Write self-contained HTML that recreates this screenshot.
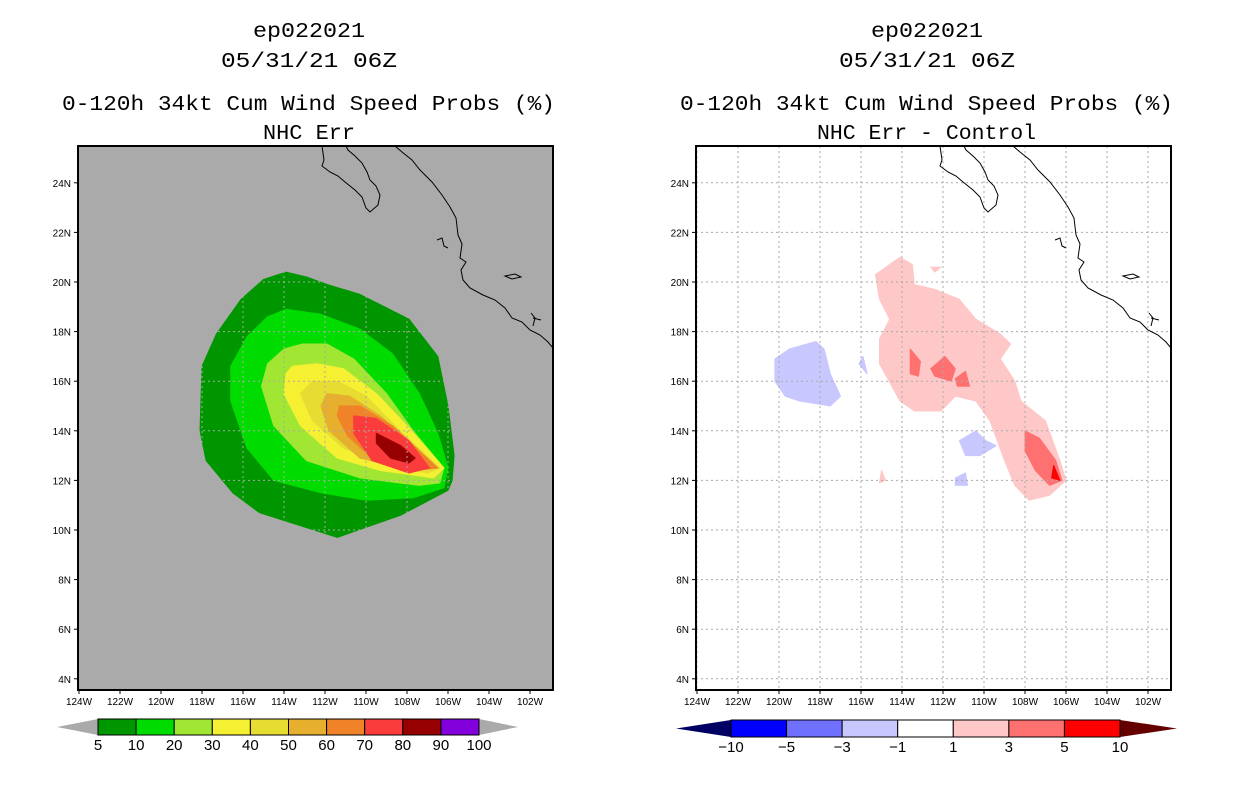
<!DOCTYPE html>
<html><head><meta charset="utf-8"><style>
body{margin:0;background:#fff;width:1236px;height:800px;overflow:hidden}
svg{display:block}
text{font-family:"Liberation Sans",sans-serif;fill:#000}
.tt{font-size:21px;font-family:"Liberation Mono",monospace}
</style></head><body>
<svg id="chart" width="1236" height="800">
<g>
<text class="tt" x="253" y="37" textLength="112" lengthAdjust="spacingAndGlyphs">ep022021</text>
<text class="tt" x="221" y="67" textLength="176" lengthAdjust="spacingAndGlyphs">05/31/21 06Z</text>
<text class="tt" x="62" y="110" textLength="493" lengthAdjust="spacingAndGlyphs">0-120h 34kt Cum Wind Speed Probs (%)</text>
<text class="tt" x="263" y="139" textLength="92" lengthAdjust="spacingAndGlyphs">NHC Err</text>
</g>
<g>
<text class="tt" x="871" y="37" textLength="112" lengthAdjust="spacingAndGlyphs">ep022021</text>
<text class="tt" x="839" y="67" textLength="176" lengthAdjust="spacingAndGlyphs">05/31/21 06Z</text>
<text class="tt" x="680" y="110" textLength="493" lengthAdjust="spacingAndGlyphs">0-120h 34kt Cum Wind Speed Probs (%)</text>
<text class="tt" x="817" y="139" textLength="219" lengthAdjust="spacingAndGlyphs">NHC Err - Control</text>
</g>
<g id="left"></g>
<g id="right"></g>
<g id="cbars"></g>
</svg>
<script>
const lonTicks=[124,122,120,118,116,114,112,110,108,106,104,102];
const latTicks=[24,22,20,18,16,14,12,10,8,6,4];
const probLevels=['5','10','20','30','40','50','60','70','80','90','100'];
const probColors=['#009600','#00dc00','#a0e632','#f5f032','#e6dc32','#e6af2d','#f08228','#fa3c3c','#960000','#8200dc'];
const diffLevels=['-10','-5','-3','-1','1','3','5','10'];
const diffColors=['#0000ff','#7070ff','#c8c8ff','#ffffff','#ffc8c8','#ff7070','#ff0000'];
const p5=[[115.0,20.1],[113.9,20.4],[112.9,20.2],[111.9,19.9],[110.3,19.5],[107.9,18.5],[106.5,17.0],[106.0,15.0],[105.7,13.0],[105.8,12.0],[106.0,11.6],[108.3,10.6],[111.4,9.7],[115.2,10.7],[116.5,11.5],[117.8,12.8],[118.1,14.0],[118.0,16.6],[117.3,17.9],[116.1,19.3]];
const p10=[[113.9,18.9],[112.2,18.7],[110.3,18.1],[108.7,17.1],[107.4,15.5],[106.5,13.9],[106.0,12.5],[106.2,11.7],[107.7,11.3],[110.0,11.2],[112.2,11.5],[114.5,12.0],[115.8,13.3],[116.6,15.2],[116.6,16.6],[115.8,17.8],[114.8,18.6]];
const p20=[[113.1,17.5],[111.9,17.5],[110.6,16.9],[109.0,15.5],[107.7,14.0],[106.2,12.5],[106.4,11.9],[107.4,11.8],[110.3,12.1],[112.9,12.8],[114.5,14.2],[115.1,15.8],[114.8,16.7],[114.0,17.3]];
const p30=[[113.6,16.6],[112.4,16.7],[111.1,16.5],[109.5,15.5],[108.0,14.2],[106.2,12.5],[106.7,12.1],[109.3,12.4],[111.4,12.9],[113.2,14.2],[114.0,15.5],[113.9,16.3]];
const p40=[[112.6,16.0],[111.4,16.0],[110.0,15.4],[108.7,14.3],[106.4,12.5],[107.0,12.3],[109.0,12.6],[111.1,13.3],[112.6,14.4],[113.2,15.5]];
const p50=[[111.9,15.5],[110.8,15.4],[109.3,14.6],[106.5,12.5],[107.7,12.4],[110.3,12.9],[111.8,14.0],[112.2,15.0]];
const p60=[[111.3,15.0],[110.3,15.0],[108.7,14.2],[106.5,12.5],[107.7,12.4],[109.7,12.9],[110.9,13.8],[111.4,14.6]];
const p70=[[110.6,14.6],[109.5,14.5],[107.9,13.6],[106.9,12.5],[107.9,12.3],[109.7,12.8],[110.6,13.9]];
const p80=[[109.5,13.9],[108.3,13.4],[107.6,12.9],[107.9,12.7],[108.8,12.9],[109.5,13.5]];
const dPos1=[[[115.3,20.3],[114.1,21.0],[113.5,20.7],[113.4,19.9],[112.4,19.7],[111.2,19.3],[110.4,18.5],[109.2,17.9],[108.7,17.5],[109.2,16.9],[108.5,16.0],[108.2,15.2],[107.0,14.4],[106.3,12.8],[106.0,12.0],[106.8,11.4],[107.8,11.2],[108.5,11.8],[109.0,12.8],[109.7,14.4],[110.4,15.2],[111.4,15.4],[112.1,14.8],[113.4,14.8],[114.1,15.2],[115.1,16.7],[115.1,17.7],[114.6,18.5],[115.1,19.3]],
 [[115.0,12.4],[114.8,12.0],[115.1,11.9]],[[112.6,20.6],[112.1,20.6],[112.4,20.4]]];
const dPos3=[[[113.6,17.3],[113.1,16.8],[113.2,16.2],[113.6,16.3]],[[112.6,16.5],[111.9,17.0],[111.4,16.5],[111.6,16.0],[112.4,16.2]],[[111.4,16.1],[110.9,16.4],[110.7,15.8],[111.3,15.8]],[[108.0,14.0],[107.3,13.7],[106.5,12.8],[106.2,12.0],[106.8,11.8],[107.5,12.4],[108.0,13.2]]];
const dPos5=[[[106.6,12.6],[106.3,12.0],[106.7,12.1]]];
const dNeg1=[[[120.2,16.9],[119.5,17.3],[118.2,17.6],[117.8,17.3],[117.5,16.3],[117.0,15.4],[117.5,15.0],[119.0,15.2],[119.7,15.4],[120.2,16.0]],[[111.2,13.6],[110.4,14.0],[109.9,13.6],[109.4,13.4],[110.2,13.0],[110.9,13.0]],[[111.4,12.1],[110.9,12.3],[110.8,11.8],[111.4,11.8]],[[116.1,16.7],[115.9,17.0],[115.7,16.3]]];
const NS='http://www.w3.org/2000/svg';
function el(tag,attrs,parent){const e=document.createElementNS(NS,tag);for(const k in attrs)e.setAttribute(k,attrs[k]);parent.appendChild(e);return e;}
const X0=[78,696],W=475,Y0=146,H=544;
function xs(p,lon){return X0[p]+1+(124-lon)*20.5;}
function ys(lat){return 282-(lat-20)*24.8;}
function poly(p,pts,fill,g){const d=pts.map(q=>xs(p,q[0]).toFixed(1)+','+ys(q[1]).toFixed(1)).join(' ');return el('polygon',{points:d,fill:fill,'stroke':fill,'stroke-linejoin':'round','stroke-width':1},g);}
const coastBaja="M322,146 L324,160 L322,166 L330,172 L338,176 L345,182 L355,190 L362,197 L366,208 L370,212 L378,205 L380,195 L376,186 L370,180 L367,172 L362,163 L355,156 L348,150 L346,146";
const coastMain="M395,146 L402,152 L412,160 L420,170 L432,182 L442,195 L450,207 L456,218 L458,235 L462,244 L460,258 L466,262 L461,270 L463,280 L470,288 L483,295 L495,300 L505,308 L512,318 L522,322 L530,330 L540,335 L548,342 L553,348";
function panel(p,gid,bg){
 const g=document.getElementById(gid);
 el('rect',{x:X0[p],y:Y0,width:W,height:H,fill:bg},g);
 const cp=el('clipPath',{id:'clip'+p},g);el('rect',{x:X0[p],y:Y0,width:W,height:H},cp);
 const plot=el('g',{'clip-path':'url(#clip'+p+')'},g);
 if(p===0){
  [[p5,0],[p10,1],[p20,2],[p30,3],[p40,4],[p50,5],[p60,6],[p70,7],[p80,8]].forEach(([pts,i])=>{
   const e=poly(0,pts,probColors[i],plot);
   
   
  });
 } else {
  [[dNeg1,2,'diff-neg-1'],[dPos1,4,'diff-pos-1'],[dPos3,5,'diff-pos-3'],[dPos5,6,'diff-pos-5']].forEach(([set,ci,nm])=>{
   set.forEach(pts=>{const e=poly(1,pts,diffColors[ci],plot);
    
    });
  });
 }
 lonTicks.forEach(l=>{const e=el('line',{x1:xs(p,l),x2:xs(p,l),y1:Y0,y2:Y0+H,stroke:'#aaaaaa','stroke-dasharray':'2,3'},plot);
  });
 latTicks.forEach(l=>{const e=el('line',{x1:X0[p],x2:X0[p]+W,y1:ys(l),y2:ys(l),stroke:'#aaaaaa','stroke-dasharray':'2,3'},plot);
  });
 const cg=el('g',{transform:'translate('+(X0[p]-78)+',0)',fill:'none',stroke:'#000','stroke-width':1},plot);
 
 el('path',{d:coastBaja},cg);el('path',{d:coastMain},cg);
 el('path',{d:'M437,240 L442,238 L444,246 L448,248'},cg);el('path',{d:'M505,276 L515,274 L521,277 L512,279 Z'},cg);
 el('path',{d:'M531,313 L535,318 L533,326 M533,318 L541,320'},cg);
 el('rect',{x:X0[p],y:Y0,width:W,height:H,fill:'none',stroke:'#000','stroke-width':2},g);
 lonTicks.forEach(l=>{el('line',{x1:xs(p,l),x2:xs(p,l),y1:Y0+H,y2:Y0+H+4,stroke:'#000'},g);
  const t=el('text',{x:xs(p,l),y:Y0+H+15,'font-size':10,'text-anchor':'middle'},g);t.textContent=l+'W';
  });
 latTicks.forEach(l=>{el('line',{x1:X0[p]-4,x2:X0[p],y1:ys(l),y2:ys(l),stroke:'#000'},g);
  const t=el('text',{x:X0[p]-7,y:ys(l)+4,'font-size':10,'text-anchor':'end'},g);t.textContent=l+'N';
  });
}
panel(0,'left','#aaaaaa');
panel(1,'right','#ffffff');
const cb=document.getElementById('cbars');
function colorbar(x0,x1,tipL,tipR,y0,y1,colors,levels,lc,rc,name){
 const g=el('g',{},cb);
 const n=colors.length,w=(x1-x0)/n,ym=(y0+y1)/2;
 el('polygon',{points:`${tipL},${ym} ${x0},${y0} ${x0},${y1}`,fill:lc},g);
 el('polygon',{points:`${tipR},${ym} ${x1},${y0} ${x1},${y1}`,fill:rc},g);
 colors.forEach((c,i)=>{el('rect',{x:x0+i*w,y:y0,width:w,height:y1-y0,fill:c,stroke:'#000','stroke-width':1},g);});
 levels.forEach((l,i)=>{const t=el('text',{x:x0+i*w,y:y1+15,'font-size':15,'text-anchor':'middle'},g);t.textContent=l.replace('-','\u2212');
  });
}
colorbar(98,479,57,518,719,735,probColors,probLevels,'#aaaaaa','#aaaaaa','prob-colorbar');
colorbar(731,1120,676,1177,720,737,diffColors,diffLevels,'#000064','#640000','diff-colorbar');
</script>
</body></html>
